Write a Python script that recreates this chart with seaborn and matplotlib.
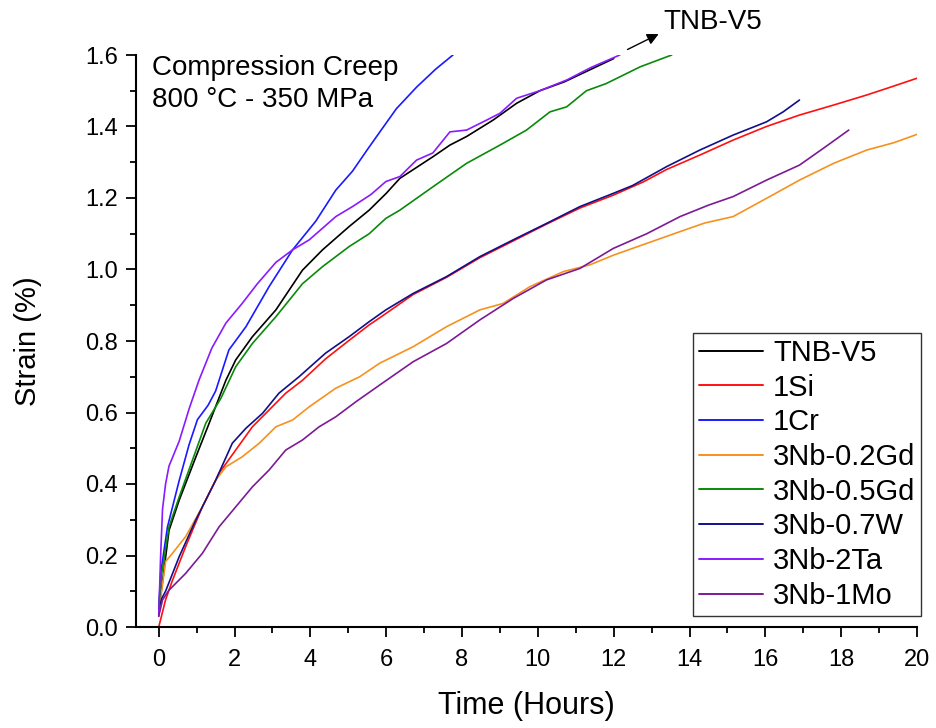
import matplotlib
matplotlib.use("Agg")
import matplotlib.pyplot as plt
from matplotlib.ticker import MultipleLocator, FormatStrFormatter
import seaborn as sns
import pandas as pd

# Creep curves: time (h) and strain (%) for each alloy
tnb_x = [0, 0.08, 0.27, 0.54, 0.98, 1.33, 1.77, 2.03, 2.47, 3.09, 3.79, 4.32, 5.02, 5.55, 6.0,
         6.36, 7.24, 7.68, 8.12, 8.82, 9.44, 10.05, 10.7, 11.4, 12.0]
tnb_y = [0.06, 0.11, 0.27, 0.355, 0.476, 0.57, 0.69, 0.747, 0.812, 0.887, 0.998, 1.055, 1.12, 1.166, 1.213,
         1.255, 1.316, 1.348, 1.372, 1.418, 1.465, 1.50, 1.525, 1.56, 1.59]

si_x = [0, 0.18, 0.36, 0.71, 1.15, 1.59, 2.03, 2.47, 2.91, 3.35, 3.79, 4.4, 5.0, 5.55, 5.83, 6.71,
        7.59, 8.47, 9.35, 10.23, 11.11, 11.99, 12.78, 13.4, 14.27, 15.15, 16.03, 16.9, 17.8, 18.67,
        19.3, 20.0]
si_y = [0.0, 0.076, 0.13, 0.225, 0.336, 0.43, 0.495, 0.56, 0.607, 0.654, 0.69, 0.75, 0.80, 0.845, 0.865,
        0.93, 0.978, 1.033, 1.08, 1.127, 1.172, 1.208, 1.245, 1.28, 1.32, 1.362, 1.40, 1.432, 1.46,
        1.488, 1.51, 1.535]

cr_x = [0, 0.05, 0.23, 0.54, 0.8, 1.02, 1.3, 1.5, 1.85, 2.3, 2.91, 3.53, 4.14, 4.67, 5.11, 5.5,
        5.9, 6.27, 6.8, 7.3, 7.76]
cr_y = [0.05, 0.15, 0.28, 0.41, 0.51, 0.58, 0.62, 0.66, 0.775, 0.84, 0.952, 1.055, 1.135, 1.222,
        1.275, 1.335, 1.395, 1.45, 1.51, 1.56, 1.60]

gd02_x = [0, 0.18, 0.36, 0.71, 1.15, 1.5, 1.77, 2.2, 2.65, 3.09, 3.53, 3.97, 4.67, 5.3, 5.83, 6.71,
          7.59, 8.47, 9.08, 9.79, 10.67, 11.37, 11.99, 12.87, 13.75, 14.4, 15.15, 16.03, 16.9, 17.8,
          18.67, 19.4, 20.0]
gd02_y = [0.04, 0.183, 0.206, 0.253, 0.336, 0.41, 0.448, 0.476, 0.514, 0.56, 0.579, 0.616, 0.668,
          0.70, 0.738, 0.784, 0.84, 0.887, 0.905, 0.952, 0.994, 1.013, 1.04, 1.073, 1.106, 1.13,
          1.148, 1.199, 1.25, 1.297, 1.334, 1.355, 1.378]

gd05_x = [0, 0.08, 0.27, 0.54, 0.89, 1.24, 1.64, 2.03, 2.47, 3.09, 3.79, 4.32, 5.02, 5.55, 5.99,
          6.36, 7.24, 8.12, 9.0, 9.7, 10.32, 10.76, 11.28, 11.8, 12.7, 13.53]
gd05_y = [0.06, 0.15, 0.28, 0.364, 0.467, 0.57, 0.64, 0.728, 0.793, 0.868, 0.96, 1.008, 1.064, 1.10,
          1.143, 1.166, 1.232, 1.297, 1.348, 1.39, 1.441, 1.455, 1.50, 1.52, 1.567, 1.60]

w_x = [0, 0.08, 0.18, 0.54, 0.98, 1.5, 1.94, 2.3, 2.74, 3.17, 3.7, 4.4, 5.02, 5.55, 5.99, 6.71,
       7.59, 8.47, 9.35, 10.23, 11.11, 11.99, 12.5, 13.4, 14.27, 15.15, 16.03, 16.47, 16.9]
w_y = [0.05, 0.08, 0.10, 0.197, 0.30, 0.41, 0.514, 0.556, 0.598, 0.654, 0.70, 0.766, 0.812, 0.854,
       0.887, 0.933, 0.98, 1.036, 1.083, 1.129, 1.176, 1.213, 1.235, 1.288, 1.334, 1.376, 1.413,
       1.441, 1.474]

ta_x = [0, 0.05, 0.1, 0.18, 0.27, 0.54, 0.8, 1.06, 1.4, 1.77, 2.2, 2.6, 3.09, 3.53, 3.97, 4.67,
        5.11, 5.6, 5.99, 6.36, 6.8, 7.23, 7.68, 8.12, 8.65, 9.0, 9.44, 10.05, 10.76, 11.4, 12.16]
ta_y = [0.03, 0.2, 0.33, 0.40, 0.45, 0.52, 0.61, 0.69, 0.78, 0.85, 0.905, 0.96, 1.02, 1.055, 1.083,
        1.148, 1.176, 1.21, 1.246, 1.26, 1.306, 1.326, 1.385, 1.39, 1.418, 1.437, 1.479, 1.50, 1.53,
        1.565, 1.60]

mo_x = [0, 0.1, 0.27, 0.71, 1.15, 1.59, 2.03, 2.47, 2.91, 3.35, 3.79, 4.23, 4.67, 5.2, 5.83, 6.71,
        7.59, 8.47, 9.35, 10.23, 11.11, 11.99, 12.87, 13.75, 14.5, 15.15, 16.03, 16.9, 17.53, 18.2]
mo_y = [0.03, 0.076, 0.103, 0.15, 0.206, 0.28, 0.336, 0.392, 0.439, 0.495, 0.523, 0.56, 0.588,
        0.63, 0.677, 0.742, 0.793, 0.859, 0.919, 0.971, 1.003, 1.059, 1.10, 1.148, 1.18, 1.204,
        1.25, 1.292, 1.339, 1.39]

labels = ["TNB-V5", "1Si", "1Cr", "3Nb-0.2Gd", "3Nb-0.5Gd", "3Nb-0.7W", "3Nb-2Ta", "3Nb-1Mo"]
colors = ["#000000", "#ff1010", "#1a1aff", "#f7911e", "#0a8a0a", "#10108a", "#8a1aff", "#7d1a96"]
series_x = [tnb_x, si_x, cr_x, gd02_x, gd05_x, w_x, ta_x, mo_x]
series_y = [tnb_y, si_y, cr_y, gd02_y, gd05_y, w_y, ta_y, mo_y]

frames = []
for lab, xs, ys in zip(labels, series_x, series_y):
    frames.append(pd.DataFrame({"Time": xs, "Strain": ys, "Alloy": lab}))
df = pd.concat(frames, ignore_index=True)

sns.set_style("ticks")
plt.rcParams["font.family"] = ["Liberation Sans", "DejaVu Sans"]
plt.rcParams["text.color"] = "black"
plt.rcParams["axes.labelcolor"] = "black"

fig = plt.figure(figsize=(9.36, 7.28), dpi=100)
ax = fig.add_axes([136 / 936, 1 - 627 / 728, (917 - 136) / 936, (627 - 55) / 728])

sns.lineplot(data=df, x="Time", y="Strain", hue="Alloy", hue_order=labels,
             palette=dict(zip(labels, colors)), sort=False, estimator=None,
             linewidth=1.2, ax=ax)

ax.set_xlim(-0.6, 20)
ax.set_ylim(0, 1.6)
ax.xaxis.set_major_locator(MultipleLocator(2))
ax.xaxis.set_minor_locator(MultipleLocator(1))
ax.yaxis.set_major_locator(MultipleLocator(0.2))
ax.yaxis.set_minor_locator(MultipleLocator(0.1))
ax.yaxis.set_major_formatter(FormatStrFormatter("%.1f"))

for side in ["top", "right"]:
    ax.spines[side].set_visible(False)
for side in ["left", "bottom"]:
    ax.spines[side].set_linewidth(1.5)
    ax.spines[side].set_color("black")

ax.tick_params(which="major", direction="out", length=7, width=1.3, labelsize=17,
               colors="black", labelcolor="black")
ax.tick_params(which="minor", direction="out", length=4, width=1.3, colors="black")
ax.tick_params(axis="x", which="major", pad=9)
ax.tick_params(axis="y", which="major", pad=6)

ax.set_xlabel("Time (Hours)", fontsize=22, labelpad=14)
ax.set_ylabel("Strain (%)", fontsize=21)
ax.yaxis.set_label_coords(-0.12, 0.5)

ax.text(-0.17, 1.6, "Compression Creep\n800 °C - 350 MPa", fontsize=20, ha="left", va="top",
        linespacing=1.3)

ax.annotate("", xy=(13.25, 1.662), xytext=(12.3, 1.612),
            arrowprops=dict(arrowstyle="-|>", color="black", lw=1.0, mutation_scale=17),
            annotation_clip=False)
ax.text(13.3, 1.672, "TNB-V5", fontsize=20, ha="left", va="baseline", clip_on=False)

leg = ax.legend(loc="upper left", bbox_to_anchor=(693 / 936, 1 - 333 / 728),
                bbox_transform=fig.transFigure, borderaxespad=0, fontsize=21,
                frameon=True, fancybox=False, edgecolor="black", handlelength=2.2,
                handletextpad=0.35, labelspacing=0.23, borderpad=0.2, title=None)
leg.get_frame().set_linewidth(1.0)
for line in leg.get_lines():
    line.set_linewidth(1.4)

fig.savefig("out.png", dpi=100, facecolor="white")
